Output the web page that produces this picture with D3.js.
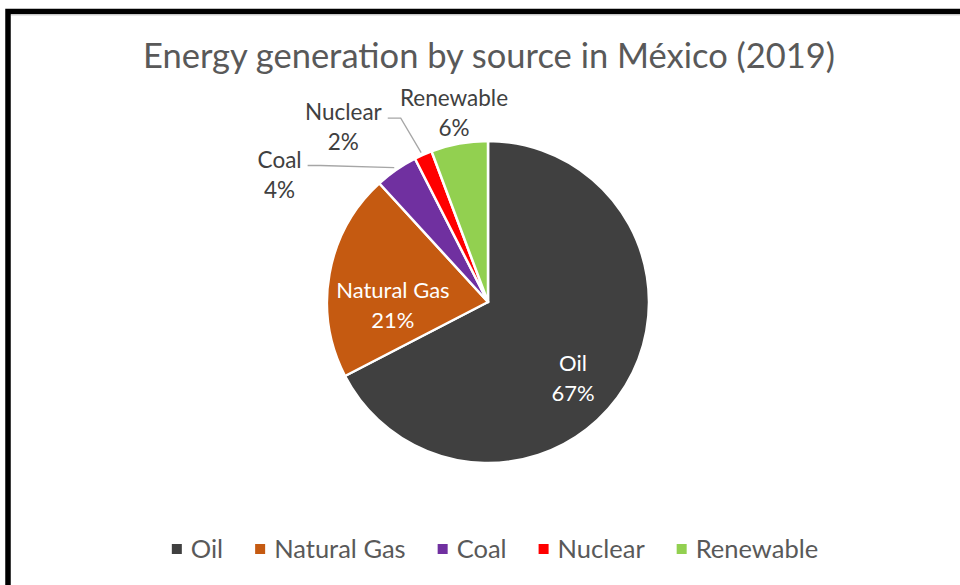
<!DOCTYPE html>
<html>
<head>
<meta charset="utf-8">
<script src="https://cdn.jsdelivr.net/npm/d3@7"></script>
<style>
  html, body { margin: 0; padding: 0; background: #fff; }
  svg text { font-family: Lato, "Open Sans", sans-serif; }
</style>
</head>
<body>
<svg id="chart" width="960" height="585"></svg>
<script>
// ---- Data ----
const title = "Energy generation by source in México (2019)";
const categories = ["Oil", "Natural Gas", "Coal", "Nuclear", "Renewable"];
const values = [67.4, 20.8, 4.3, 1.8, 5.7];
const colors = ["#404040", "#C55A11", "#7030A0", "#FF0000", "#92D050"];

// ---- Layout ----
const W = 960, H = 585;
const cx = 488, cy = 302, R = 161;
const svg = d3.select("#chart");

svg.append("rect").attr("x", 0).attr("y", 0).attr("width", W).attr("height", H).attr("fill", "#fff");
// outer border (extends beyond right and bottom edges)
svg.append("rect").attr("x", 8).attr("y", 11.5).attr("width", W + 20).attr("height", H + 20)
  .attr("fill", "none").attr("stroke", "#000").attr("stroke-width", 5.5);
svg.append("line").attr("x1", 11).attr("x2", W).attr("y1", 15).attr("y2", 15)
  .attr("stroke", "#d0d0d0").attr("stroke-width", 1);

svg.append("text").attr("x", 489).attr("y", 68).attr("text-anchor", "middle")
  .attr("font-size", 34.5).attr("fill", "#595959").text(title);

const data = categories.map((c, i) => ({ name: c, value: values[i], color: colors[i] }));
const total = d3.sum(values);
const pie = d3.pie().value(d => d.value).sort(null);
const arcs = pie(data);
const arc = d3.arc().innerRadius(0).outerRadius(R);

const g = svg.append("g").attr("transform", `translate(${cx},${cy})`);
g.selectAll("path.slice").data(arcs).join("path")
  .attr("class", "slice")
  .attr("d", arc)
  .attr("fill", d => d.data.color)
  .attr("stroke", "#fff").attr("stroke-width", 2.5).attr("stroke-linejoin", "round");

const pct = d => Math.round(d.data.value / total * 100) + "%";
const pt = (a, r) => [r * Math.sin(a), -r * Math.cos(a)];

// inside labels for large slices
const inside = arcs.filter(d => d.data.value / total >= 0.1);
inside.forEach(d => {
  const mid = (d.startAngle + d.endAngle) / 2;
  const big = d.data.value / total > 0.5;
  const frac = big ? 0.72 : 0.6;
  let [x, y] = pt(mid, R * frac);
  if (big) { x -= 14; y += 17; } else { y += 21; }
  const t = g.append("text").attr("text-anchor", "middle").attr("fill", "#fff").attr("font-size", 22);
  t.append("tspan").attr("x", x).attr("y", y - 8).text(d.data.name);
  t.append("tspan").attr("x", x).attr("y", y + 22).text(pct(d));
});

// outside labels for small slices, placed with simple collision avoidance
const outside = arcs.filter(d => d.data.value / total < 0.1)
  .sort((a, b) => b.startAngle - a.startAngle); // from 12 o'clock backwards
const placed = [];
const fs = 22.5, hgt = 46;
outside.forEach(d => {
  const mid = (d.startAngle + d.endAngle) / 2;
  let a = mid, r = R + 30;
  const tmp = g.append("text").attr("font-size", fs).text(d.data.name);
  const w = Math.max(tmp.node().getComputedTextLength(), 30);
  tmp.remove();
  let box;
  for (let k = 0; k < 200; k++) {
    const [x, y] = pt(a, r);
    box = { x0: x - w / 2 - 8, x1: x + w / 2 + 8, y0: y - hgt / 2, y1: y + hgt / 2, x, y, w };
    const hit = placed.some(p => !(box.x1 < p.x0 || box.x0 > p.x1 || box.y1 < p.y0 || box.y0 > p.y1));
    if (!hit) break;
    a -= Math.PI / 180;
    r += 2.2;
  }
  placed.push(box);
  const t = g.append("text").attr("text-anchor", "middle").attr("fill", "#404040").attr("font-size", fs);
  t.append("tspan").attr("x", box.x).attr("y", box.y - 8).text(d.data.name);
  t.append("tspan").attr("x", box.x).attr("y", box.y + 22).text(pct(d));
  // leader line only when the label has been pushed away from its slice
  const [ex, ey] = pt(mid, R);
  const lx = box.x + box.w / 2 + 6, ly = box.y - 10;
  if (r - (R + 30) > 10) {
    g.append("polyline")
      .attr("points", [[lx, ly], [lx + 13, ly], [ex - 2, ey - 2]].map(p => p.join(",")).join(" "))
      .attr("fill", "none").attr("stroke", "#a6a6a6").attr("stroke-width", 1.3);
  }
});

// ---- Legend ----
const legend = svg.append("g");
const lfs = 25.5, sq = 10, gap = 32;
let xpos = 0;
data.forEach(d => {
  const it = legend.append("g");
  it.append("rect").attr("width", sq).attr("height", sq).attr("fill", d.color).attr("y", -sq / 2);
  const tx = it.append("text").attr("x", sq + 9).attr("y", 0).attr("dy", "0.35em")
    .attr("font-size", lfs).attr("fill", "#595959").text(d.name);
  const tw = tx.node().getComputedTextLength();
  it.attr("transform", `translate(${xpos},0)`);
  xpos += sq + 9 + tw + gap;
});
const legendW = xpos - gap;
legend.attr("transform", `translate(${495 - legendW / 2},${549})`);
</script>
</body>
</html>
